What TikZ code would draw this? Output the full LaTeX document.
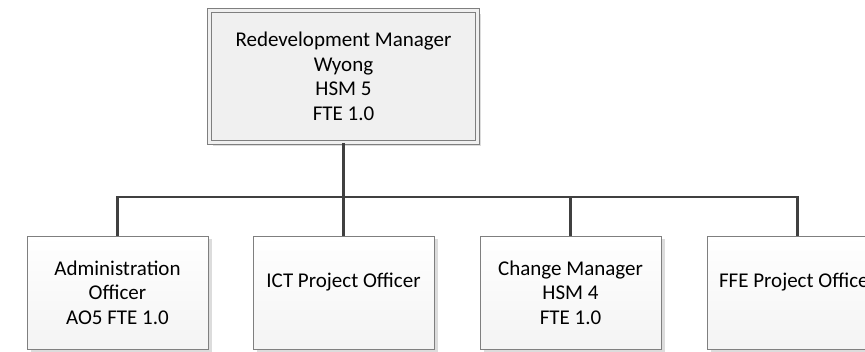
\documentclass[tikz,border=0pt]{standalone}
\usepackage{fontspec}
\setmainfont{Carlito}
\usetikzlibrary{shadows}
\definecolor{linkgray}{HTML}{404040}
\definecolor{boxline}{HTML}{7F7F7F}
\definecolor{shadowgray}{HTML}{DCDCDC}
\definecolor{headfill}{HTML}{F0F0F0}
\begin{document}
\begin{tikzpicture}[x=1pt,y=-1pt,
  every node/.style={font=\fontsize{21}{24.5}\selectfont, align=center, inner sep=0pt},
  orgbox/.style={rectangle, draw=boxline, line width=0.9pt,
    top color=white, bottom color=gray!9,
    drop shadow={shadow xshift=3.5pt, shadow yshift=-3.5pt, fill=shadowgray, opacity=1},
    minimum width=181pt, minimum height=113pt},
  headbox/.style={rectangle, draw=boxline, line width=0.9pt,
    double=headfill, double distance=3.6pt, fill=headfill,
    drop shadow={shadow xshift=3.5pt, shadow yshift=-3.5pt, fill=shadowgray, opacity=1},
    minimum width=268pt, minimum height=132pt},
  link/.style={draw=linkgray, line width=2.5pt}]
\useasboundingbox (0,0) rectangle (865,352);
\begin{scope}
\clip (0,0) rectangle (865,352);

% head of the unit
\node[headbox] (head) at (343.5,76.5)
  {Redevelopment Manager\\Wyong\\HSM 5\\FTE 1.0};

% staff reporting to the manager
\node[orgbox] (admin)  at (117.5,292.5) {Administration\\Officer\\AO5 FTE 1.0};
\node[orgbox] (ict)    at (343.5,292.5) {ICT Project Officer\\~};
\node[orgbox] (change) at (570.5,292.5) {Change Manager\\HSM 4\\FTE 1.0};
\node[orgbox] (ffe)    at (797.5,292.5) {FFE Project Officer\\~};

% reporting lines via a common bus
\coordinate (bus) at (343.5,197);
\draw[link] (head.south) -- (bus);
\foreach \c in {admin,ict,change,ffe}
  \draw[link] (bus) -| (\c.north);
\end{scope}
\end{tikzpicture}
\end{document}
